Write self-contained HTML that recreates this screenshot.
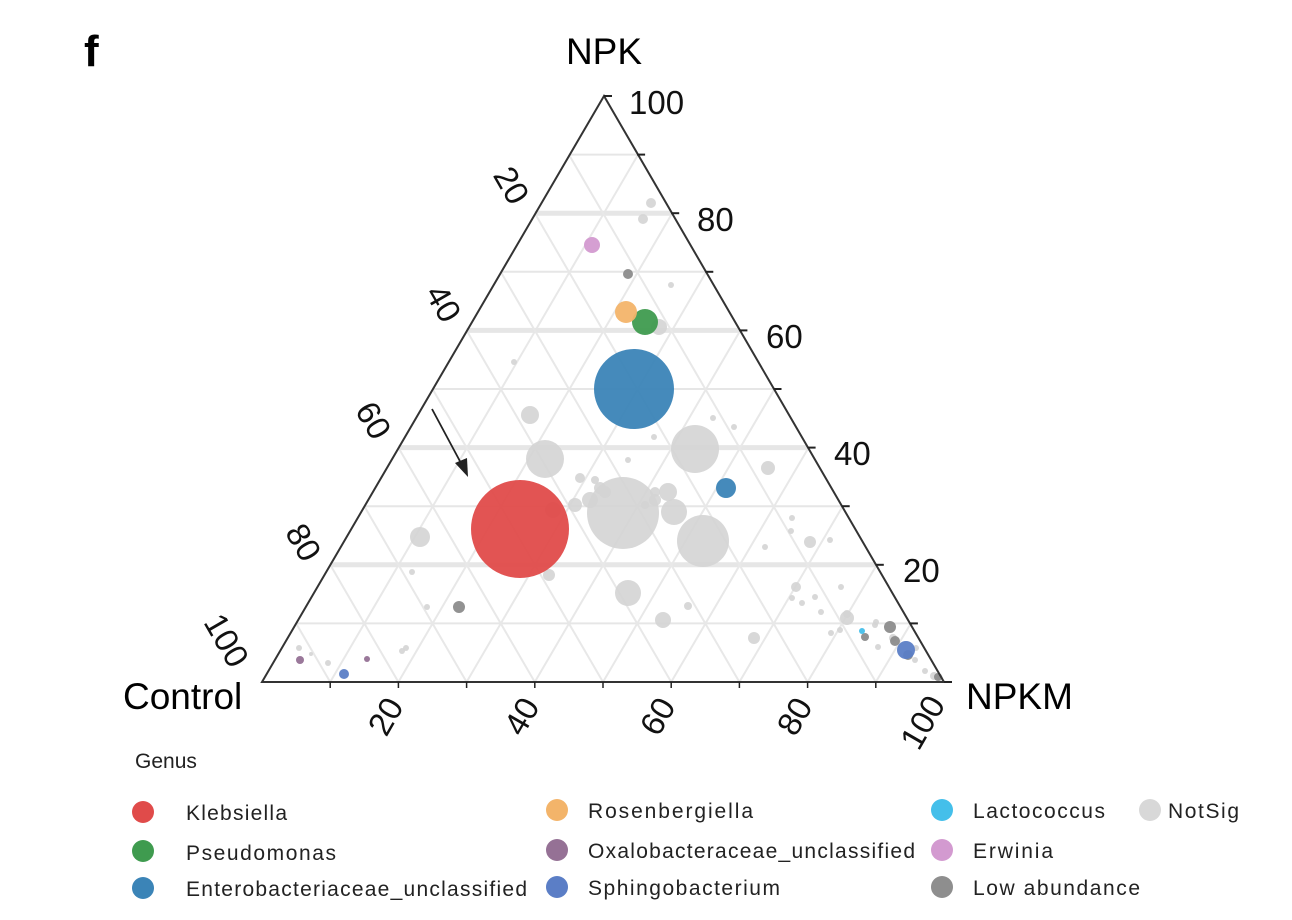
<!DOCTYPE html>
<html><head><meta charset="utf-8"><style>
html,body{margin:0;padding:0;background:#fff;}
svg{display:block;font-family:"Liberation Sans",sans-serif;}
</style></head><body>
<svg id="s" width="1292" height="920" viewBox="0 0 1292 920" xmlns="http://www.w3.org/2000/svg">
<rect width="1292" height="920" fill="#fff"/>
<g id="grid"></g>
<g id="pts"></g>
<polygon points="604,96 262,682 944,682" fill="none" stroke="#333" stroke-width="2"/>
<g id="ticks" stroke="#222" stroke-width="2"></g>
<line x1="432" y1="409" x2="462" y2="465" stroke="#222" stroke-width="1.8"/>
<polygon points="468,477 455,463 467,458" fill="#222"/>
<text x="84" y="66" font-size="44" font-weight="bold">f</text>
<text x="604" y="64" font-size="37" text-anchor="middle">NPK</text>
<text x="123" y="709" font-size="37">Control</text>
<text x="966" y="709" font-size="37">NPKM</text>
<g font-size="33" fill="#111">
<text x="629" y="114">100</text>
<text x="697" y="231">80</text>
<text x="766" y="348">60</text>
<text x="834" y="465">40</text>
<text x="903" y="582">20</text>
<text transform="translate(512,185) rotate(60)" text-anchor="middle" dy="12">20</text>
<text transform="translate(444,303) rotate(60)" text-anchor="middle" dy="12">40</text>
<text transform="translate(374,420) rotate(60)" text-anchor="middle" dy="12">60</text>
<text transform="translate(304,542) rotate(60)" text-anchor="middle" dy="12">80</text>
<text transform="translate(227,640) rotate(60)" text-anchor="middle" dy="12">100</text>
<text transform="translate(385,716) rotate(-60)" text-anchor="middle" dy="12">20</text>
<text transform="translate(521,716) rotate(-60)" text-anchor="middle" dy="12">40</text>
<text transform="translate(657,716) rotate(-60)" text-anchor="middle" dy="12">60</text>
<text transform="translate(794,716) rotate(-60)" text-anchor="middle" dy="12">80</text>
<text transform="translate(922,722) rotate(-60)" text-anchor="middle" dy="12">100</text>
</g>
<g font-size="21" fill="#222">
<text x="135" y="768">Genus</text>
<circle cx="143" cy="812" r="11" fill="#e04b4a"/><text x="186" y="820" textLength="101">Klebsiella</text>
<circle cx="143" cy="851" r="11" fill="#3f9b4f"/><text x="186" y="860" textLength="150">Pseudomonas</text>
<circle cx="143" cy="888" r="11" fill="#3b84b7"/><text x="186" y="896" textLength="341">Enterobacteriaceae_unclassified</text>
<circle cx="557" cy="810" r="11" fill="#f3b46a"/><text x="588" y="818" textLength="165">Rosenbergiella</text>
<circle cx="557" cy="850" r="11" fill="#957195"/><text x="588" y="858" textLength="327">Oxalobacteraceae_unclassified</text>
<circle cx="557" cy="887" r="11" fill="#5b7ec6"/><text x="588" y="895" textLength="192">Sphingobacterium</text>
<circle cx="942" cy="810" r="11" fill="#44bfea"/><text x="973" y="818" textLength="132">Lactococcus</text>
<circle cx="942" cy="850" r="11" fill="#d39ad0"/><text x="973" y="858" textLength="80">Erwinia</text>
<circle cx="942" cy="887" r="11" fill="#8e8e8e"/><text x="973" y="895" textLength="167">Low abundance</text>
<circle cx="1150" cy="810" r="11" fill="#d8d8d8"/><text x="1168" y="818" textLength="71">NotSig</text>
</g>
<script>
(function(){
var ns="http://www.w3.org/2000/svg",g=document.getElementById("grid"),t=document.getElementById("ticks"),p=document.getElementById("pts");
function L(par,x1,y1,x2,y2,c,w){var l=document.createElementNS(ns,"line");l.setAttribute("x1",x1);l.setAttribute("y1",y1);l.setAttribute("x2",x2);l.setAttribute("y2",y2);l.setAttribute("stroke",c);l.setAttribute("stroke-width",w);par.appendChild(l);}
var dx=34.1,dy=58.6;
for(var k=1;k<10;k++){
 var y=682-k*dy;
 L(g,262+k*dx,y,944-k*dx,y,"#e6e6e6",k%2==0?5:2);
 L(g,262+2*k*dx,682,604+k*dx,96+k*dy,"#e8e8e8",2);
 L(g,262+2*k*dx,682,262+k*dx,682-k*dy,"#e8e8e8",2);
 L(t,944-k*dx,y,952-k*dx,y,"#222",2);
 L(t,262+2*k*dx,682,262+2*k*dx,688,"#222",1.5);
}
L(t,604,96,612,96,"#222",2);L(t,944,682,952,682,"#222",2);
var G="#d4d4d4",D="#8c8c8c";
var pts=[
[623,513,36,G],[703,541,26,G],[695,449,24,G],[545,459,19,G],[628,593,13,G],[674,512,13,G],
[580,478,5,G],[600,488,6,G],[590,500,8,G],[595,480,4,G],[605,492,6,G],[575,505,7,G],[655,492,5,G],[668,492,9,G],[655,500,6,G],
[530,415,9,G],[420,537,10,G],[663,620,8,G],[754,638,6,G],[768,468,7,G],[651,203,5,G],[643,219,5,G],[659,327,8,G],
[628,460,3,G],[654,437,3,G],[713,418,3,G],[734,427,3,G],[514,362,3,G],[671,285,3,G],[549,575,6,G],[553,510,8,G],[645,505,4,G],
[412,572,3,G],[427,607,3,G],[406,648,3,G],[402,651,3,G],[299,648,3,G],[328,663,3,G],[311,654,2,G],
[792,518,3,G],[791,531,3,G],[810,542,6,G],[830,540,3,G],[765,547,3,G],[688,606,4,G],[796,587,5,G],[792,598,3,G],[802,603,3,G],
[815,597,3,G],[821,612,3,G],[847,614,4,G],[847,618,7,G],[840,630,3,G],[831,633,3,G],[841,587,3,G],[875,625,3,G],[878,647,3,G],[876,622,3,G],
[915,660,3,G],[925,671,3,G],[934,676,4,G],[940,678,3,G],[893,638,4,G],[916,648,3,G],
[628,274,5,D],[459,607,6,D],[890,627,6,D],[895,641,5,D],[865,637,4,D],[908,655,5,D],[938,677,4,D],
[726,488,10,"#3b84b7"],[634,389,40,"#3b84b7"],[520,529,49,"#e04b4a"],[645,322,13,"#3f9b4f"],[626,312,11,"#f3b46a"],
[592,245,8,"#d39ad0"],[862,631,3,"#44bfea"],[906,650,9,"#5b7ec6"],[344,674,5,"#5b7ec6"],[300,660,4,"#957195"],[367,659,3,"#957195"]
];
pts.forEach(function(a){var c=document.createElementNS(ns,"circle");c.setAttribute("cx",a[0]);c.setAttribute("cy",a[1]);c.setAttribute("r",a[2]);c.setAttribute("fill",a[3]);c.setAttribute("fill-opacity",a[3]==G?0.9:0.95);p.appendChild(c);});
})();
</script>
</svg>
</body></html>
